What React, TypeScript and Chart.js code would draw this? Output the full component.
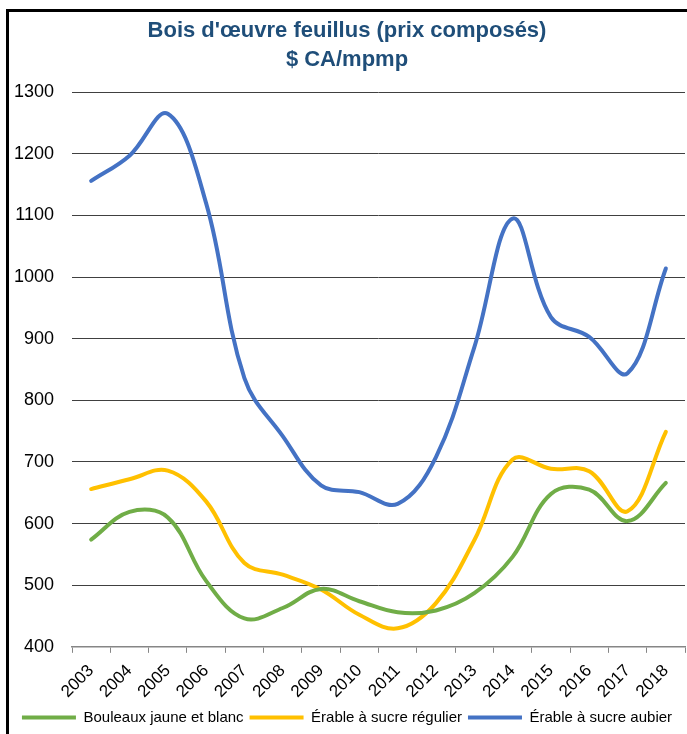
import React, { useEffect, useRef } from "react";
import { Chart, registerables } from "chart.js";

Chart.register(...registerables);

const years = ["2003","2004","2005","2006","2007","2008","2009","2010","2011","2012","2013","2014","2015","2016","2017","2018"];
const bouleaux = [574, 619, 610, 507, 446, 463, 494, 474, 456, 459, 487, 546, 648, 655, 604, 666];
const erableRegulier = [656, 672, 686, 636, 536, 517, 493, 452, 430, 471, 573, 704, 689, 685, 620, 749];
const erableAubier = [1156, 1197, 1265, 1120, 836, 742, 662, 651, 632, 708, 886, 1095, 935, 903, 844, 1014];
const seriesNames = ["Bouleaux jaune et blanc", "Érable à sucre régulier", "Érable à sucre aubier"];
const titleLines = ["Bois d'œuvre feuillus (prix composés)", "$ CA/mpmp"];

const FONT = "'Liberation Sans', Arial, sans-serif";
const LEGEND_TRIM = 7;
const LEGEND_LIFT = 6;

const legendTrim = {
  id: "legendTrim",
  beforeLayout(chart: any) {
    const lg = chart.legend;
    if (!lg || lg.__trimmed) return;
    lg.__trimmed = true;
    const fit = lg.fit;
    lg.fit = function (this: any) {
      fit.call(this);
      this.height = Math.max(0, this.height - LEGEND_TRIM);
    };
    const draw = lg.draw;
    lg.draw = function (this: any, ...args: any[]) {
      const ctx = this.ctx;
      ctx.save();
      ctx.translate(0, -LEGEND_LIFT);
      draw.apply(this, args);
      ctx.restore();
    };
  },
};

export default function App() {
  const ref = useRef<HTMLCanvasElement | null>(null);
  useEffect(() => {
    if (!ref.current) return;
    const mk = (label: string, data: number[], color: string) => ({
      label, data, borderColor: color, backgroundColor: color,
      borderWidth: 4, pointRadius: 0, pointHoverRadius: 0, tension: 0.38,
      borderCapStyle: "round" as const, borderJoinStyle: "round" as const, fill: false,
    });
    const chart = new Chart(ref.current, {
      type: "line",
      data: {
        labels: years,
        datasets: [
          mk(seriesNames[0], bouleaux, "#70AD47"),
          mk(seriesNames[1], erableRegulier, "#FFC000"),
          mk(seriesNames[2], erableAubier, "#4472C4"),
        ],
      },
      plugins: [legendTrim],
      options: {
        animation: false,
        responsive: false,
        devicePixelRatio: 1,
        layout: { padding: { right: 6, bottom: 0, left: 0, top: 0 } },
        plugins: {
          title: {
            display: true,
            text: titleLines,
            color: "#1F4E79",
            font: { family: FONT, size: 22, weight: "bold", lineHeight: 1.3 },
            padding: { top: 5, bottom: 18 },
          },
          legend: {
            position: "bottom",
            labels: {
              usePointStyle: true,
              pointStyle: "line",
              pointStyleWidth: 54,
              boxHeight: 15,
              padding: 6,
              color: "#000",
              font: { family: FONT, size: 15 },
            },
          },
          tooltip: { enabled: false },
        },
        scales: {
          x: {
            offset: true,
            grid: { display: true, drawOnChartArea: false, drawTicks: true, tickLength: 6, color: "#868686", offset: true },
            border: { display: true, color: "#868686", width: 1.5 },
            ticks: { color: "#000", font: { family: FONT, size: 17 }, minRotation: 45, maxRotation: 45, padding: 8, autoSkip: false },
          },
          y: {
            min: 400, max: 1300,
            grid: { color: "#404040", lineWidth: 1, drawTicks: false },
            border: { display: false },
            ticks: { stepSize: 100, color: "#000", font: { family: FONT, size: 18 }, padding: 18, callback: (v: any) => String(v) },
            afterFit: (s: any) => { s.width = 63; },
          },
        },
      },
    });
    chart.update();
    return () => chart.destroy();
  }, []);
  return (
    <div style={{ position: "fixed", left: 0, top: 0, width: 687, height: 734, overflow: "hidden", background: "#fff" }}>
      <div style={{ position: "absolute", left: 6, top: 9, width: 720, height: 760, borderLeft: "3px solid #000", borderTop: "3px solid #000" }} />
      <canvas ref={ref} width={682} height={722} style={{ position: "absolute", left: 9, top: 12, width: 682, height: 722 }} />
    </div>
  );
}
